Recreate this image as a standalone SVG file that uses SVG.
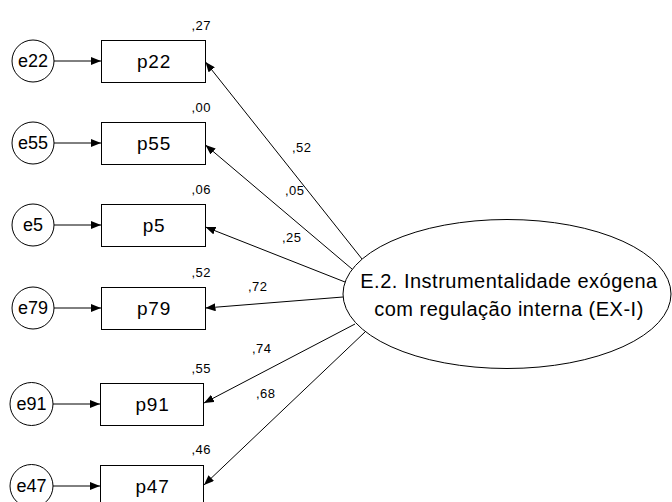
<svg xmlns="http://www.w3.org/2000/svg" width="672" height="502" viewBox="0 0 672 502">
<style>
.box{fill:#fff;stroke:#000;stroke-width:1}
.err{fill:#fff;stroke:#000;stroke-width:1}
.lat{fill:#fff;stroke:#000;stroke-width:1}
.lbl{font-family:"Liberation Sans",Arial,sans-serif;font-size:19px;letter-spacing:0.8px;text-anchor:middle;fill:#000}
.elbl{font-family:"Liberation Sans",Arial,sans-serif;font-size:18px;text-anchor:middle;fill:#000}
.big{font-family:"Liberation Sans",Arial,sans-serif;font-size:20px;letter-spacing:0.5px;text-anchor:middle;fill:#000}
.num{font-family:"Liberation Sans",Arial,sans-serif;font-size:13px;letter-spacing:0.5px;fill:#000}
.r2{text-anchor:end}
.edge{stroke:#000;stroke-width:1;fill:none;marker-end:url(#ah)}
</style>
<defs>
<marker id="ah" viewBox="0 0 10 8" refX="10" refY="4" markerWidth="10" markerHeight="8" orient="auto" markerUnits="userSpaceOnUse">
<path d="M0,0 L10,4 L0,8 z" fill="#000"/>
</marker>
</defs>
<rect width="672" height="502" fill="#fff"/>

<g id="connectors">
<line class="edge" x1="54" y1="61" x2="101" y2="61"/>
<line class="edge" x1="54" y1="143" x2="101" y2="143"/>
<line class="edge" x1="54" y1="225" x2="101" y2="225"/>
<line class="edge" x1="54" y1="308" x2="101" y2="308"/>
<line class="edge" x1="53" y1="404" x2="100" y2="404"/>
<line class="edge" x1="53" y1="486" x2="100" y2="486"/>
<line class="edge" x1="362" y1="259" x2="205.5" y2="62"/>
<line class="edge" x1="352" y1="269" x2="205.5" y2="145"/>
<line class="edge" x1="345" y1="282" x2="205.5" y2="227"/>
<line class="edge" x1="343" y1="297" x2="205.5" y2="308"/>
<line class="edge" x1="355" y1="324" x2="204" y2="403"/>
<line class="edge" x1="365" y1="332" x2="204" y2="485"/>
<text class="num" x="292" y="152">,52</text>
<text class="num" x="285" y="195">,05</text>
<text class="num" x="282" y="242">,25</text>
<text class="num" x="248" y="291">,72</text>
<text class="num" x="252" y="353">,74</text>
<text class="num" x="256" y="398">,68</text>
</g>

<g id="e22"><circle class="err" cx="33" cy="61" r="21"/><text class="elbl" x="33" y="67">e22</text></g>
<g id="e55"><circle class="err" cx="33" cy="143" r="21"/><text class="elbl" x="33" y="149">e55</text></g>
<g id="e5"><circle class="err" cx="33" cy="225" r="21"/><text class="elbl" x="33" y="231">e5</text></g>
<g id="e79"><circle class="err" cx="33" cy="308" r="21"/><text class="elbl" x="33" y="314">e79</text></g>
<g id="e91"><circle class="err" cx="31.5" cy="404" r="21.5"/><text class="elbl" x="31.5" y="410">e91</text></g>
<g id="e47"><circle class="err" cx="31.5" cy="486" r="21.5"/><text class="elbl" x="31.5" y="492">e47</text></g>

<g id="p22"><rect class="box" x="101.5" y="40.5" width="104" height="42"/><text class="lbl" x="154" y="68">p22</text><text class="num r2" x="211" y="30">,27</text></g>
<g id="p55"><rect class="box" x="101.5" y="122.5" width="104" height="42"/><text class="lbl" x="154" y="150">p55</text><text class="num r2" x="211" y="112">,00</text></g>
<g id="p5"><rect class="box" x="101.5" y="204.5" width="104" height="42"/><text class="lbl" x="154" y="232">p5</text><text class="num r2" x="211" y="194">,06</text></g>
<g id="p79"><rect class="box" x="101.5" y="287.5" width="104" height="42"/><text class="lbl" x="154" y="315">p79</text><text class="num r2" x="211" y="277">,52</text></g>
<g id="p91"><rect class="box" x="100.5" y="383.5" width="103" height="42"/><text class="lbl" x="152.5" y="411">p91</text><text class="num r2" x="211" y="373">,55</text></g>
<g id="p47"><rect class="box" x="100.5" y="465.5" width="103" height="42"/><text class="lbl" x="152.5" y="493">p47</text><text class="num r2" x="211" y="454">,46</text></g>

<g id="EX-I">
<ellipse class="lat" cx="507" cy="294" rx="164" ry="74.5"/>
<text class="big" x="509" y="288">E.2. Instrumentalidade exógena</text>
<text class="big" x="509" y="316">com regulação interna (EX-I)</text>
</g>
</svg>
